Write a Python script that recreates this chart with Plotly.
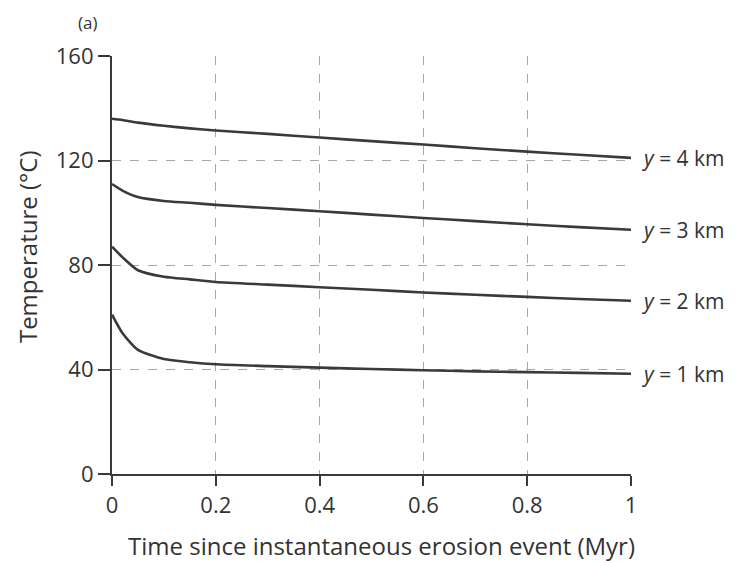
import plotly.graph_objects as go

# time since erosion (Myr)
time_myr = [0, 0.02, 0.05, 0.1, 0.15, 0.2, 0.3, 0.4, 0.5, 0.6, 0.7, 0.8, 0.9, 1.0]

# temperature (deg C) at each depth
temp_1km = [61, 54, 47.5, 44, 42.8, 42, 41.3, 40.7, 40.2, 39.7, 39.3, 39, 38.7, 38.4]
temp_2km = [87, 83, 78, 75.5, 74.5, 73.5, 72.5, 71.5, 70.5, 69.5, 68.6, 67.8, 67, 66.3]
temp_3km = [111, 108.5, 106, 104.5, 103.8, 103, 101.8, 100.6, 99.3, 98, 96.8, 95.6, 94.5, 93.5]
temp_4km = [136, 135.5, 134.5, 133.3, 132.3, 131.5, 130.2, 128.8, 127.4, 126.1, 124.7, 123.4, 122.2, 121]

depth_labels = ["1", "2", "3", "4"]

_LINE = "#3a3a3a"
_GRID = "#a8a8a8"
_FONT = "Open Sans"

fig = go.Figure()
for lab, temps in zip(depth_labels, [temp_1km, temp_2km, temp_3km, temp_4km]):
    fig.add_trace(
        go.Scatter(
            x=time_myr,
            y=temps,
            mode="lines",
            line=dict(color=_LINE, width=2.6, shape="spline", smoothing=0.6),
            showlegend=False,
        )
    )
    fig.add_annotation(
        x=1,
        y=temps[-1],
        text=f"<i>y</i> = {lab} km",
        showarrow=False,
        xanchor="left",
        xshift=8,
        font=dict(family=_FONT, size=21, color="#333"),
    )

fig.add_annotation(
    x=-0.048, y=1.0, xref="paper", yref="paper",
    text="(a)", showarrow=False,
    xanchor="center", yanchor="middle", yshift=34,
    font=dict(family=_FONT, size=17, color="#333"),
)
# axis titles placed as annotations for exact position
fig.add_annotation(
    x=0.52, y=-0.172, xref="paper", yref="paper",
    text="Time since instantaneous erosion event (Myr)", showarrow=False,
    xanchor="center", yanchor="middle",
    font=dict(family=_FONT, size=24, color="#333"),
)
fig.add_annotation(
    x=-0.164, y=0.545, xref="paper", yref="paper",
    text="Temperature (°C)", showarrow=False, textangle=-90,
    xanchor="center", yanchor="middle",
    font=dict(family=_FONT, size=24, color="#333"),
)

axis_common = dict(
    showline=True,
    linecolor=_LINE,
    linewidth=2.2,
    ticks="outside",
    tickwidth=2,
    tickcolor=_LINE,
    showgrid=True,
    gridcolor=_GRID,
    griddash="dash",
    gridwidth=1.2,
    zeroline=False,
    automargin=False,
    tickfont=dict(family=_FONT, size=22, color="#333"),
)

fig.update_xaxes(
    range=[0, 1],
    tickvals=[0, 0.2, 0.4, 0.6, 0.8, 1],
    ticktext=["0", "0.2", "0.4", "0.6", "0.8", "1"],
    ticklen=10,
    **axis_common,
)
fig.update_yaxes(
    range=[0, 160],
    tickvals=[0, 40, 80, 120, 160],
    ticklen=12,
    **axis_common,
)

# page body adds an 8px margin, so the figure is 8px smaller than the window
fig.update_layout(
    width=733,
    height=555,
    paper_bgcolor="white",
    plot_bgcolor="white",
    margin=dict(l=104, r=110, t=48, b=89),
)

fig.write_html("out.html")
